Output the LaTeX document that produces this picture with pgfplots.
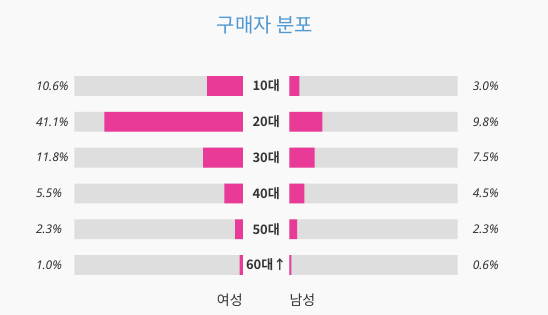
\documentclass[border=0pt]{standalone}
\usepackage{pgfplots}
\pgfplotsset{compat=1.18}
\usepackage{fontspec}
\setmainfont{Noto Sans}
\newfontfamily\kr{Noto Sans CJK KR}
\newfontfamily\krb{Noto Sans CJK KR Bold}
\definecolor{bg}{HTML}{F9F9F9}
\definecolor{barpink}{HTML}{E93A97}
\definecolor{bargray}{HTML}{DEDEDE}
\definecolor{titleblue}{HTML}{4F98D2}
\definecolor{txt}{HTML}{333333}
\begin{document}
\begin{tikzpicture}
\fill[bg] (0,0) rectangle (548bp,315bp);
\node[text=titleblue, font=\kr\fontsize{20bp}{24bp}\selectfont] at (265bp,290bp) {구매자 분포};
% Female (left)
\begin{axis}[
  at={(74.5bp,32.1bp)}, anchor=south west,
  scale only axis, width=168.4bp, height=214.8bp,
  hide axis, clip=false,
  xmin=0, xmax=50, x dir=reverse,
  ymin=-0.5, ymax=5.5, y dir=reverse,
]
\addplot[xbar, bar shift=0pt, bar width=19.8bp, fill=bargray, draw=none]
  coordinates {(50,0) (50,1) (50,2) (50,3) (50,4) (50,5)};
\addplot[xbar, bar shift=0pt, bar width=19.8bp, fill=barpink, draw=none]
  coordinates {(10.6,0) (41.1,1) (11.8,2) (5.5,3) (2.3,4) (1.0,5)};
\addplot[draw=none, mark=none, point meta=explicit symbolic,
  nodes near coords,
  every node near coord/.style={anchor=west, xshift=-42bp, text=txt,
    font=\fontsize{12bp}{14bp}\selectfont\itshape}]
  coordinates {(50,0) [10.6\%] (50,1) [41.1\%] (50,2) [11.8\%] (50,3) [5.5\%] (50,4) [2.3\%] (50,5) [1.0\%]};
\addplot[draw=none, mark=none, point meta=explicit symbolic,
  nodes near coords,
  every node near coord/.style={anchor=center, xshift=23.3bp, text=txt,
    font=\krb\fontsize{13bp}{15bp}\selectfont}]
  coordinates {(0,0) [10대] (0,1) [20대] (0,2) [30대] (0,3) [40대] (0,4) [50대] (0,5) [60대↑]};
\node[anchor=east, text=txt, font=\kr\fontsize{14bp}{16bp}\selectfont, yshift=-17.5bp, inner xsep=0pt]
  at (axis cs:0,5.5) {여성};
\end{axis}
% Male (right)
\begin{axis}[
  at={(289.3bp,32.1bp)}, anchor=south west,
  scale only axis, width=168.4bp, height=214.8bp,
  hide axis, clip=false,
  xmin=0, xmax=50,
  ymin=-0.5, ymax=5.5, y dir=reverse,
]
\addplot[xbar, bar shift=0pt, bar width=19.8bp, fill=bargray, draw=none]
  coordinates {(50,0) (50,1) (50,2) (50,3) (50,4) (50,5)};
\addplot[xbar, bar shift=0pt, bar width=19.8bp, fill=barpink, draw=none]
  coordinates {(3.0,0) (9.8,1) (7.5,2) (4.5,3) (2.3,4) (0.6,5)};
\addplot[draw=none, mark=none, point meta=explicit symbolic,
  nodes near coords,
  every node near coord/.style={anchor=east, xshift=44.5bp, text=txt,
    font=\fontsize{12bp}{14bp}\selectfont\itshape}]
  coordinates {(50,0) [3.0\%] (50,1) [9.8\%] (50,2) [7.5\%] (50,3) [4.5\%] (50,4) [2.3\%] (50,5) [0.6\%]};
\node[anchor=west, text=txt, font=\kr\fontsize{14bp}{16bp}\selectfont, yshift=-17.5bp, inner xsep=0pt]
  at (axis cs:0,5.5) {남성};
\end{axis}
\end{tikzpicture}
\end{document}
